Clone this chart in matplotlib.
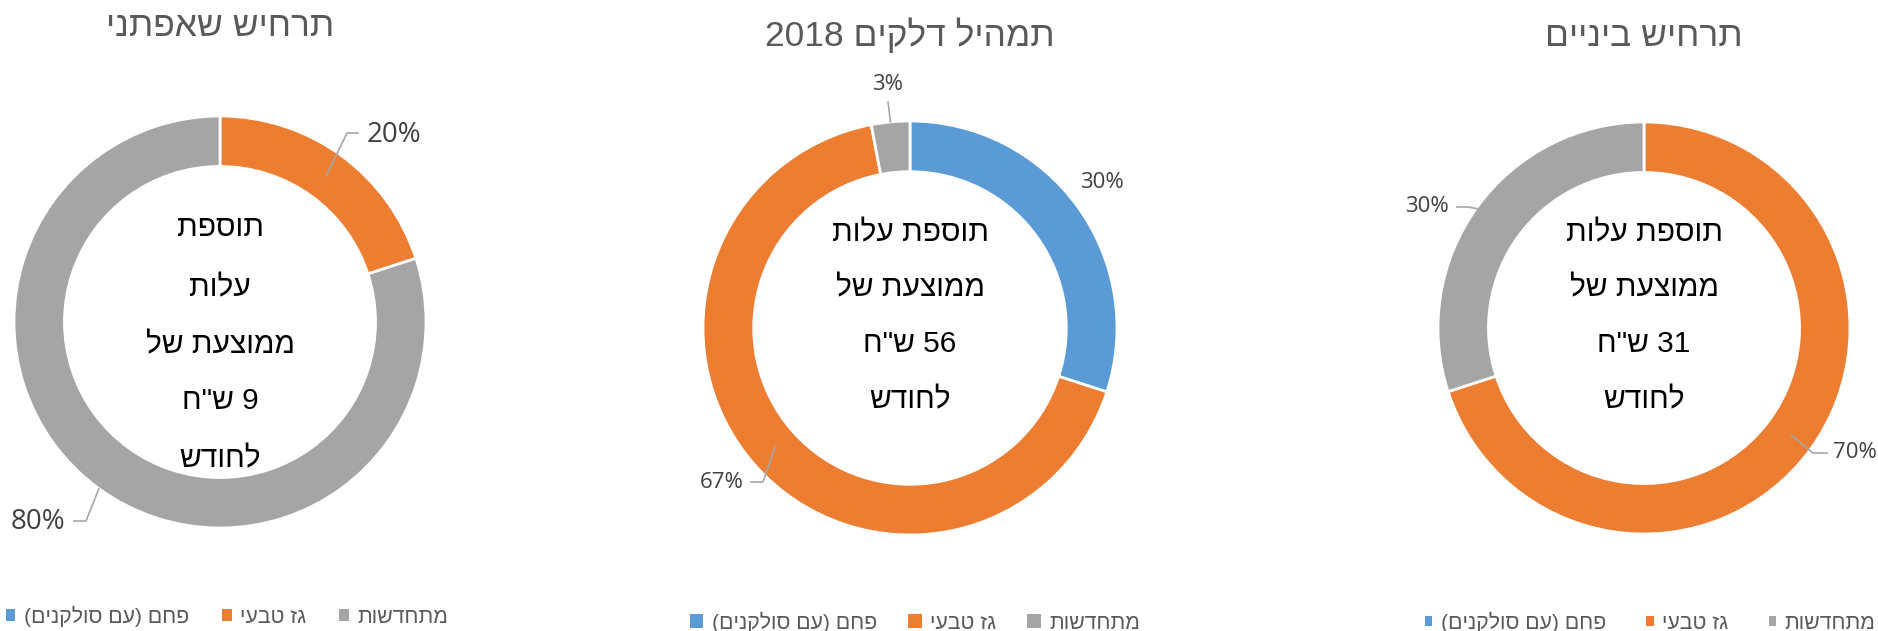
import re
import numpy as np
import matplotlib
matplotlib.use('Agg')
import matplotlib.pyplot as plt
from matplotlib.patches import Patch

#%% data

categories = ['פחם (עם סולקנים)', 'גז טבעי', 'מתחדשות']
colors = ['#5B9BD5', '#ED7D31', '#A5A5A5']
titles = ['תרחיש שאפתני', 'תמהיל דלקים 2018', 'תרחיש ביניים']
share_ambitious = [0, 20, 80]
share_2018 = [30, 67, 3]
share_middle = [0, 70, 30]
monthly_cost = [9, 56, 31]   # ש"ח לחודש

#%% layout (pixels)

W, H = 1878, 631
centers = [(220, 322), (910, 328), (1644, 328)]
radius = [206, 207, 206]
title_y = [27, 35, 36]
ring = 0.245

# per-label: text pos, fontsize, leader stub start/end, leader radius (None = no line)
label_cfg = [
    {1: ((394, 135), 20, (358, 133), (347, 133), 0.88),
     2: ((38, 522), 20, (74, 521), (86, 521), 1.0)},
    {0: ((1102, 183), 16, None, None, None),
     1: ((722, 483), 16, (751, 482), (763, 482), 0.87),
     2: ((888, 84), 16, (888, 102), (888, 102), 1.0)},
    {2: ((1427, 207), 16, (1457, 207), (1468, 207), 0.98),
     1: ((1855, 453), 16, (1827, 453), (1813, 453), 0.885)},
]
legend_cfg = [((227, 616), 0.45, 1.55), ((915, 622), 0.65, 1.45), ((1650, 622), 0.35, 1.9)]


def vis(s):
    # hebrew -> visual order for matplotlib (no bidi support)
    r = s[::-1].translate(str.maketrans('()', ')('))
    return re.sub(r'[0-9%.]+', lambda m: m.group(0)[::-1], r)


plt.rcParams['font.family'] = ['Liberation Sans', 'DejaVu Sans']
fig = plt.figure(figsize=(W / 100, H / 100), dpi=100)

over = fig.add_axes([0, 0, 1, 1])
over.set_xlim(0, W)
over.set_ylim(H, 0)
over.axis('off')
over.patch.set_alpha(0)
over.set_zorder(5)

for i, vals in enumerate([share_ambitious, share_2018, share_middle]):
    cx, cy = centers[i]
    R = radius[i]
    ax = fig.add_axes([(cx - R) / W, 1 - (cy + R) / H, 2 * R / W, 2 * R / H])
    keep = [k for k, v in enumerate(vals) if v > 0]
    ax.pie([vals[k] for k in keep], colors=[colors[k] for k in keep],
           startangle=90, counterclock=False, radius=1,
           wedgeprops=dict(width=ring, edgecolor='white', linewidth=2))
    ax.set_xlim(-1, 1)
    ax.set_ylim(-1, 1)

    # labels + leader lines
    tot = float(sum(vals))
    cum = 0.0
    for k, v in enumerate(vals):
        start = cum
        cum += v
        if v == 0 or k not in label_cfg[i]:
            continue
        (tx, ty), fs, p0, p1, rr = label_cfg[i][k]
        mid = np.deg2rad(90 - 360 * (start + v / 2) / tot)
        over.text(tx, ty, f'{v}%', ha='center', va='center', fontsize=fs,
                  color='#404040', family=['Open Sans', 'DejaVu Sans'])
        if rr is not None:
            ex, ey = cx + R * rr * np.cos(mid), cy - R * rr * np.sin(mid)
            over.plot([p0[0], p1[0], ex], [p0[1], p1[1], ey], color='#A6A6A6', lw=1.2)

    # title
    over.text(cx, title_y[i], vis(titles[i]), ha='center', va='center',
              fontsize=25.5, color='#595959')

    # center text
    cost = vis(f'{monthly_cost[i]} ש"ח')
    if i == 0:
        lines = [vis('תוספת'), vis('עלות'), vis('ממוצעת של'), cost, vis('לחודש')]
        ys = [228, 288, 345, 401, 459]
    else:
        lines = [vis('תוספת עלות'), vis('ממוצעת של'), cost, vis('לחודש')]
        ys = [233, 288, 344, 400]
    for t, y in zip(lines, ys):
        over.text(cx, y, t, ha='center', va='center', fontsize=21.5, color='black')

    # legend
    (lx, ly), hl, cs = legend_cfg[i]
    handles = [Patch(facecolor=c, edgecolor='none') for c in colors]
    fig.legend(handles, [vis(c) for c in categories], ncol=3, loc='center',
               bbox_to_anchor=(lx / W, 1 - ly / H), frameon=False, fontsize=15.3,
               handlelength=hl, handleheight=hl, handletextpad=0.4,
               columnspacing=cs, labelcolor='#595959')

fig.savefig('out.png', dpi=100)
